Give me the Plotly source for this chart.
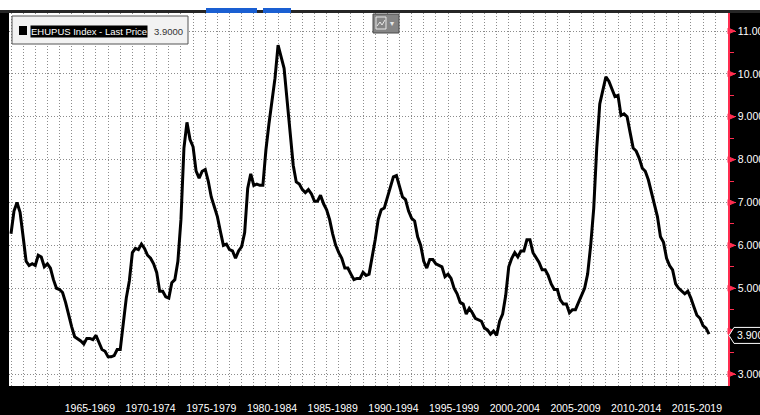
import plotly.graph_objects as go
import pandas as pd

# ---------------- data (quarterly) ----------------
series_name = "EHUPUS Index - Last Price"
last_value_text = "3.9000"
series_start_quarter = "1960Q4"

rate_1960s = [6.27,
              6.80, 7.00, 6.77, 6.20,
              5.63, 5.53, 5.57, 5.53,
              5.77, 5.73, 5.50, 5.57,
              5.47, 5.20, 5.00, 4.97,
              4.90, 4.67, 4.37, 4.10,
              3.87, 3.83, 3.77, 3.70,
              3.83, 3.83, 3.80, 3.90,
              3.73, 3.57, 3.53, 3.40,
              3.40, 3.43, 3.57, 3.57]
rate_1970s = [4.17, 4.77, 5.17, 5.83,
              5.93, 5.90, 6.03, 5.93,
              5.77, 5.70, 5.57, 5.37,
              4.93, 4.93, 4.80, 4.77,
              5.13, 5.20, 5.63, 6.60,
              8.27, 8.87, 8.47, 8.30,
              7.73, 7.57, 7.73, 7.77,
              7.50, 7.13, 6.90, 6.67,
              6.33, 6.00, 6.03, 5.90,
              5.87, 5.70, 5.87, 5.97]
rate_1980s = [6.30, 7.33, 7.67, 7.40,
              7.43, 7.40, 7.40, 8.23,
              8.83, 9.43, 9.90, 10.67,
              10.37, 10.13, 9.37, 8.53,
              7.87, 7.48, 7.43, 7.30,
              7.23, 7.30, 7.20, 7.03,
              7.03, 7.17, 6.97, 6.83,
              6.60, 6.27, 6.00, 5.83,
              5.70, 5.47, 5.47, 5.33,
              5.20, 5.23, 5.23, 5.37]
rate_1990s = [5.30, 5.33, 5.70, 6.13,
              6.60, 6.83, 6.87, 7.10,
              7.37, 7.60, 7.63, 7.37,
              7.13, 7.07, 6.80, 6.63,
              6.57, 6.20, 6.00, 5.63,
              5.47, 5.67, 5.67, 5.57,
              5.53, 5.50, 5.27, 5.33,
              5.23, 5.00, 4.87, 4.67,
              4.63, 4.40, 4.53, 4.43,
              4.30, 4.27, 4.23, 4.07]
rate_2000s = [4.03, 3.93, 4.00, 3.90,
              4.23, 4.40, 4.83, 5.50,
              5.70, 5.83, 5.73, 5.87,
              5.87, 6.13, 6.13, 5.83,
              5.70, 5.60, 5.43, 5.43,
              5.30, 5.10, 4.97, 4.97,
              4.73, 4.63, 4.63, 4.43,
              4.50, 4.50, 4.67, 4.83,
              5.00, 5.33, 6.00, 6.87,
              8.27, 9.30, 9.63, 9.93]
rate_2010s = [9.83, 9.63, 9.47, 9.50,
              9.03, 9.07, 9.00, 8.63,
              8.27, 8.20, 8.03, 7.80,
              7.73, 7.53, 7.23, 6.93,
              6.67, 6.20, 6.07, 5.70,
              5.53, 5.43, 5.10, 5.00,
              4.93, 4.87, 4.93, 4.77,
              4.57, 4.37, 4.30, 4.13,
              4.07, 3.93]

period_start_years = [1965, 1970, 1975, 1980, 1985, 1990, 1995, 2000, 2005, 2010, 2015]
y_tick_values = [3, 4, 5, 6, 7, 8, 9, 10, 11]
y_tick_labels = ["3.0000", "", "5.0000", "6.0000", "7.0000", "8.0000", "9.0000", "10.000", "11.000"]
y_minor_values = [3.5, 4.5, 5.5, 6.5, 7.5, 8.5, 9.5, 10.5]
last_value = 3.9

# ---------------- build ----------------
values = rate_1960s + rate_1970s + rate_1980s + rate_1990s + rate_2000s + rate_2010s
dates = (pd.period_range(series_start_quarter, periods=len(values), freq="Q")
         .to_timestamp(how="end").normalize().strftime("%Y-%m-%d").tolist())
x_tick_positions = [f"{y + 2}-07-01" for y in period_start_years]
x_tick_labels = [f"{y}-{y + 4}" for y in period_start_years]

W, H = 760, 415
ML, MR, MT, MB = 9, 32, 13, 29
PW, PH = W - ML - MR, H - MT - MB
Y_RANGE = [2.72, 11.42]
UNIT_PX = PH / (Y_RANGE[1] - Y_RANGE[0])

FONT = "Liberation Sans, Arial, sans-serif"
RED = "#ff2d50"
GRID = "#8c8c8c"
DOT = "1px,2px"


def px(xp):
    return (xp - ML) / PW


def py(yp):
    return (H - MB - yp) / PH


fig = go.Figure()
fig.add_trace(go.Scatter(x=dates, y=values, mode="lines",
                         line=dict(color="black", width=3),
                         hoverinfo="skip", showlegend=False))

shapes = []
# top strip of the terminal window
shapes.append(dict(type="rect", xref="paper", yref="paper", x0=px(0), x1=px(W),
                   y0=py(0), y1=py(10), fillcolor="white", line=dict(width=0), layer="above"))
shapes.append(dict(type="rect", xref="paper", yref="paper", x0=px(0), x1=px(W),
                   y0=py(10), y1=py(13), fillcolor="#262626", line=dict(width=0), layer="above"))
for a, b in [(206, 257), (263, 291)]:
    shapes.append(dict(type="rect", xref="paper", yref="paper", x0=px(a), x1=px(b),
                       y0=py(8), y1=py(13), fillcolor="#1a5fd2", line=dict(width=0), layer="above"))

# legend box
shapes.append(dict(type="rect", xref="paper", yref="paper", x0=px(12), x1=px(188),
                   y0=py(16), y1=py(44), fillcolor="#f2f2f2",
                   line=dict(color="#555555", width=1), layer="above"))
shapes.append(dict(type="rect", xref="paper", yref="paper", x0=px(19), x1=px(27),
                   y0=py(26), y1=py(35), fillcolor="black", line=dict(width=0), layer="above"))

# chart-type icon
shapes.append(dict(type="rect", xref="paper", yref="paper", x0=px(373), x1=px(399),
                   y0=py(14), y1=py(33), fillcolor="#858585",
                   line=dict(color="#4a4a4a", width=1), layer="above"))
shapes.append(dict(type="rect", xref="paper", yref="paper", x0=px(376), x1=px(386),
                   y0=py(17), y1=py(29), fillcolor="rgba(0,0,0,0)",
                   line=dict(color="#e8e8e8", width=1), layer="above"))
shapes.append(dict(type="path", xref="paper", yref="paper", layer="above",
                   path=f"M {px(377)},{py(26)} L {px(380)},{py(22)} L {px(382)},{py(25)} L {px(385)},{py(20)}",
                   line=dict(color="#e8e8e8", width=1)))

# right-axis tick arrows
tri_w = 7 / PW
tri_h = 3 / UNIT_PX
for v in y_tick_values:
    shapes.append(dict(type="path", xref="paper", yref="y", layer="above",
                       path=f"M 1,{v - tri_h} L {1 + tri_w},{v} L 1,{v + tri_h} Z",
                       fillcolor=RED, line=dict(color=RED, width=1)))

# last value box
bh = 8 / UNIT_PX
shapes.append(dict(type="path", xref="paper", yref="y", layer="above",
                   path=(f"M {1 + 1 / PW},{last_value} L {1 + 6 / PW},{last_value + bh} "
                         f"L {1 + 45 / PW},{last_value + bh} L {1 + 45 / PW},{last_value - bh} "
                         f"L {1 + 6 / PW},{last_value - bh} Z"),
                   fillcolor="black", line=dict(color="white", width=1)))

annotations = [
    dict(xref="paper", yref="paper", x=px(30), y=py(31), xanchor="left", yanchor="middle",
         text=series_name, showarrow=False, bgcolor="black", borderpad=0,
         font=dict(family=FONT, size=9.5, color="white")),
    dict(xref="paper", yref="paper", x=px(152), y=py(31), xanchor="left", yanchor="middle",
         text=last_value_text, showarrow=False,
         font=dict(family=FONT, size=9.5, color="#333333")),
    dict(xref="paper", yref="paper", x=px(392), y=py(23), xanchor="center", yanchor="middle",
         text="▾", showarrow=False, font=dict(family="DejaVu Sans", size=8, color="#e8e8e8")),
    dict(xref="paper", yref="y", x=1 + 7 / PW, y=last_value, xanchor="left", yanchor="middle",
         text=last_value_text, showarrow=False,
         font=dict(family=FONT, size=10.5, color="white")),
]

fig.update_layout(
    width=W, height=H, template="none",
    margin=dict(l=ML, r=MR, t=MT, b=MB, pad=0),
    paper_bgcolor="black", plot_bgcolor="white",
    showlegend=False, shapes=shapes, annotations=annotations,
    font=dict(family=FONT, size=10.5, color="white"),
    xaxis=dict(type="date", range=["1960-11-01", "2020-01-22"],
               tickmode="array", tickvals=x_tick_positions, ticktext=x_tick_labels,
               showgrid=False, zeroline=False, showline=False,
               ticks="outside", ticklen=12, tickcolor="black",
               tickfont=dict(family=FONT, size=10.5, color="white"),
               automargin=False, fixedrange=True,
               minor=dict(tickmode="linear", tick0="1961-01-01", dtick="M12",
                          showgrid=True, gridcolor=GRID, griddash=DOT, gridwidth=1, ticks="")),
    yaxis=dict(side="right", range=Y_RANGE,
               tickmode="array", tickvals=y_tick_values, ticktext=y_tick_labels,
               showgrid=True, gridcolor=GRID, griddash=DOT, gridwidth=1,
               zeroline=False, showline=True, linecolor=RED, linewidth=1.5,
               ticks="outside", ticklen=6, tickcolor=RED, tickwidth=1,
               tickfont=dict(family=FONT, size=10.5, color="white"),
               automargin=False, fixedrange=True,
               minor=dict(tickmode="array", tickvals=y_minor_values, ticks="outside",
                          ticklen=4, tickcolor=RED, tickwidth=1, showgrid=False)),
)

fig.write_html("out.html", config={"displayModeBar": False},
               post_script="document.body.style.margin='0';document.body.style.overflow='hidden';")
